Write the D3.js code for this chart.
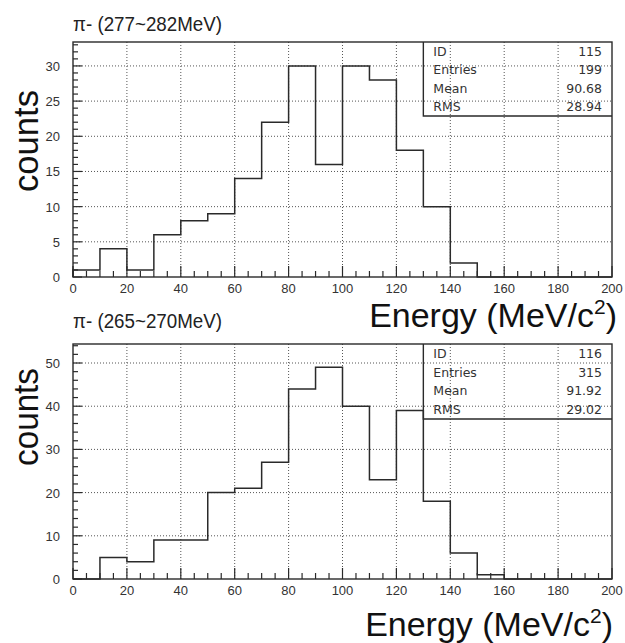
<!DOCTYPE html>
<html>
<head>
<meta charset="utf-8">
<script src="https://cdn.jsdelivr.net/npm/d3@7"></script>
<style>
  body { margin: 0; background: #fff; }
  svg { display: block; font-family: "Liberation Sans", Arial, sans-serif; }
</style>
</head>
<body>
<svg id="chart" width="625" height="643"></svg>
<script>
// bin edges every 10 MeV/c2, 0..200
const binEdges = d3.range(0, 200, 10);

// pi- 277~282 MeV
const countsTop = [1, 4, 1, 6, 8, 9, 14, 22, 30, 16, 30, 28, 18, 10, 2, 0, 0, 0, 0, 0];
const statsTop = [["ID", "115"], ["Entries", "199"], ["Mean", "90.68"], ["RMS", "28.94"]];

// pi- 265~270 MeV
const countsBottom = [0, 5, 4, 9, 9, 20, 21, 27, 44, 49, 40, 23, 39, 18, 6, 1, 0, 0, 0, 0];
const statsBottom = [["ID", "116"], ["Entries", "315"], ["Mean", "91.92"], ["RMS", "29.02"]];

const xTicks = [0, 20, 40, 60, 80, 100, 120, 140, 160, 180, 200];

const panels = [
    {title: "π- (277~282MeV)", counts: countsTop, stats: statsTop, top: 42, bottom: 277,
     yMax: 33.4, yMajor: 5, yMinor: 1, statsBottom: 116, titleY: 31,
     xlabX: 617, xlabY: 327, ylabY: 141, ylabLen: 102},
    {title: "π- (265~270MeV)", counts: countsBottom, stats: statsBottom, top: 344, bottom: 579,
     yMax: 54.4, yMajor: 10, yMinor: 2, statsBottom: 419, titleY: 328,
     xlabX: 613, xlabY: 636, ylabY: 417, ylabLen: 98}
];

const svg = d3.select("#chart");
const left = 73, right = 612;
const ink = "#2a2a2a";

const x = d3.scaleLinear().domain([0, 200]).range([left, right]);

panels.forEach(p => {
    const y = d3.scaleLinear().domain([0, p.yMax]).range([p.bottom, p.top]);
    const g = svg.append("g");

    // dotted grid
    g.append("g").selectAll("line")
        .data(xTicks.filter(d => d > 0 && d < 200))
        .join("line")
        .attr("x1", d => x(d)).attr("x2", d => x(d))
        .attr("y1", p.top).attr("y2", p.bottom)
        .attr("stroke", "#555").attr("stroke-width", 1).attr("stroke-dasharray", "1,2");
    const yMajors = d3.range(p.yMajor, p.yMax, p.yMajor);
    g.append("g").selectAll("line")
        .data(yMajors)
        .join("line")
        .attr("x1", left).attr("x2", right)
        .attr("y1", d => y(d)).attr("y2", d => y(d))
        .attr("stroke", "#555").attr("stroke-width", 1).attr("stroke-dasharray", "1,2");

    // x ticks (inward)
    g.append("g").selectAll("line")
        .data(d3.range(0, 201, 5))
        .join("line")
        .attr("x1", d => x(d)).attr("x2", d => x(d))
        .attr("y1", p.bottom)
        .attr("y2", d => p.bottom - (d % 20 === 0 ? 11 : 6))
        .attr("stroke", ink).attr("stroke-width", 1.2);

    // y ticks (inward)
    g.append("g").selectAll("line")
        .data(d3.range(0, p.yMax, p.yMinor))
        .join("line")
        .attr("x1", left)
        .attr("x2", d => left + (d % p.yMajor === 0 ? 9 : 5))
        .attr("y1", d => y(d)).attr("y2", d => y(d))
        .attr("stroke", ink).attr("stroke-width", 1.2);

    // tick labels
    g.append("g").selectAll("text")
        .data(xTicks)
        .join("text")
        .attr("x", d => x(d)).attr("y", p.bottom + 16)
        .attr("text-anchor", "middle")
        .attr("font-size", 13).attr("fill", "#333")
        .text(d => d);
    g.append("g").selectAll("text")
        .data(d3.range(0, p.yMax, p.yMajor))
        .join("text")
        .attr("x", 60).attr("y", d => y(d) + 5)
        .attr("text-anchor", "end")
        .attr("font-size", 13).attr("fill", "#333")
        .text(d => d);

    // histogram
    const pts = [[0, 0]].concat(binEdges.map((e, i) => [e, p.counts[i]]), [[200, 0]]);
    g.append("path")
        .datum(pts)
        .attr("d", d3.line().x(d => x(d[0])).y(d => y(d[1])).curve(d3.curveStepAfter))
        .attr("fill", "none").attr("stroke", ink).attr("stroke-width", 1.5);

    // frame
    g.append("rect")
        .attr("x", left).attr("y", p.top)
        .attr("width", right - left).attr("height", p.bottom - p.top)
        .attr("fill", "none").attr("stroke", ink).attr("stroke-width", 1.4);

    // stats box
    const sx = x(130);
    g.append("path")
        .attr("d", `M${sx},${p.top}V${p.statsBottom}H${right}`)
        .attr("fill", "none").attr("stroke", ink).attr("stroke-width", 1.4);
    const rowH = (p.statsBottom - p.top) / 4;
    const rows = g.append("g").selectAll("g")
        .data(p.stats)
        .join("g")
        .attr("transform", (d, i) => `translate(0,${p.top + rowH * (i + 0.5) + 4.5})`);
    rows.append("text")
        .attr("x", sx + 10)
        .attr("font-family", "DejaVu Sans").attr("font-size", 12.5).attr("fill", "#333")
        .text(d => d[0]);
    rows.append("text")
        .attr("x", right - 10).attr("text-anchor", "end")
        .attr("font-family", "DejaVu Sans").attr("font-size", 12.5).attr("fill", "#333")
        .text(d => d[1]);

    // title
    g.append("text")
        .attr("x", left).attr("y", p.titleY)
        .attr("font-size", 20).attr("fill", "#222")
        .attr("textLength", 149).attr("lengthAdjust", "spacingAndGlyphs")
        .text(p.title);

    // y label
    g.append("text")
        .attr("transform", `translate(38,${p.ylabY}) rotate(-90)`)
        .attr("text-anchor", "middle")
        .attr("font-size", 35).attr("fill", "#111")
        .attr("textLength", p.ylabLen).attr("lengthAdjust", "spacingAndGlyphs")
        .text("counts");

    // x label
    const xl = g.append("text")
        .attr("x", p.xlabX).attr("y", p.xlabY)
        .attr("text-anchor", "end")
        .attr("font-size", 34).attr("fill", "#111");
    xl.append("tspan").text("Energy (MeV/c");
    xl.append("tspan").attr("font-size", 21).attr("dy", -13).text("2");
    xl.append("tspan").attr("dy", 13).text(")");
});
</script>
</body>
</html>
